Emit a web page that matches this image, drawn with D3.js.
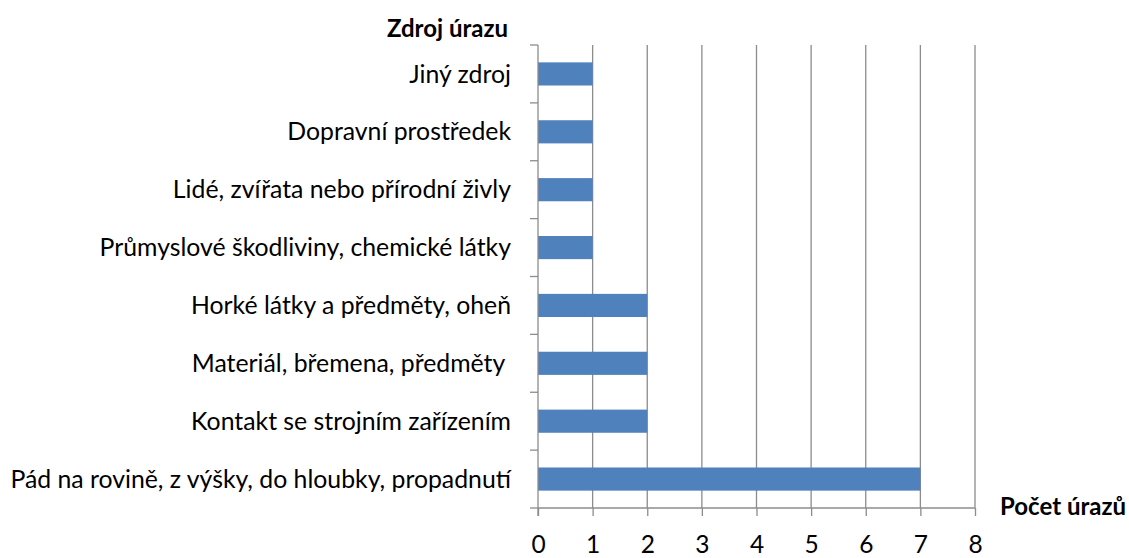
<!DOCTYPE html>
<html>
<head>
<meta charset="utf-8">
<script src="https://cdn.jsdelivr.net/npm/d3@7"></script>
<style>
  body { margin: 0; background: #fff; }
  text { font-family: Lato, "Open Sans", sans-serif; fill: #000; }
</style>
</head>
<body>
<div id="svganchor"></div>
<script>
// chart data, bottom to top as in the picture
let categories = [
  "Pád na rovině, z výšky, do hloubky, propadnutí",
  "Kontakt se strojním zařízením",
  "Materiál, břemena, předměty ",
  "Horké látky a předměty, oheň",
  "Průmyslové škodliviny, chemické látky",
  "Lidé, zvířata nebo přírodní živly",
  "Dopravní prostředek",
  "Jiný zdroj"
];
let counts = [7, 2, 2, 2, 1, 1, 1, 1];
let xTicks = [0, 1, 2, 3, 4, 5, 6, 7, 8];
let yTitle = "Zdroj úrazu";
let xTitle = "Počet úrazů";

let width = 1129;
let height = 558;
let margin = { top: 45, right: 154, bottom: 50, left: 538 };

let svg = d3.select("#svganchor").append("svg").attr("width", width).attr("height", height);

let xScale = d3.scaleLinear().domain([0, 8]).range([margin.left, width - margin.right]);
let yScale = d3.scaleBand()
  .domain(categories.slice().reverse())
  .range([margin.top, height - margin.bottom])
  .paddingInner(0.6)
  .paddingOuter(0.3);

let gridColor = "#8c8c8c";

// vertical gridlines
svg.append("g").selectAll("line").data(xTicks.slice(1)).enter().append("line")
  .attr("x1", d => xScale(d)).attr("x2", d => xScale(d))
  .attr("y1", margin.top).attr("y2", height - margin.bottom)
  .attr("stroke", gridColor).attr("stroke-width", 1.3);

// bars
svg.append("g").selectAll("rect").data(categories).enter().append("rect")
  .attr("x", xScale(0))
  .attr("y", d => yScale(d))
  .attr("width", (d, i) => xScale(counts[i]) - xScale(0))
  .attr("height", yScale.bandwidth())
  .attr("fill", "#4f81bd");

// x axis
let xAxis = svg.append("g")
  .attr("transform", "translate(0," + (height - margin.bottom) + ")")
  .call(d3.axisBottom(xScale).tickValues(xTicks).tickSize(8).tickSizeOuter(0));
xAxis.select(".domain").remove();
xAxis.append("line").attr("x1", xScale(0)).attr("x2", xScale(8));
xAxis.selectAll("line").attr("stroke", gridColor).attr("stroke-width", 1.3);
xAxis.selectAll("text").attr("dy", null).attr("y", 45)
  .style("font-size", "24.5px").style("font-family", "Lato, sans-serif").attr("fill", "#000");

// y axis, ticks sit on category boundaries
let step = yScale.step();
let boundaries = d3.range(categories.length + 1).map(i => margin.top + i * step);
let yAxis = svg.append("g");
yAxis.append("line")
  .attr("x1", xScale(0)).attr("x2", xScale(0))
  .attr("y1", margin.top).attr("y2", height - margin.bottom + 8)
  .attr("stroke", gridColor).attr("stroke-width", 1.3);
yAxis.selectAll(".tick").data(boundaries).enter().append("line")
  .attr("x1", xScale(0) - 8).attr("x2", xScale(0))
  .attr("y1", d => d).attr("y2", d => d)
  .attr("stroke", gridColor).attr("stroke-width", 1.3);
yAxis.selectAll(".lbl").data(categories).enter().append("text")
  .attr("x", xScale(0) - 27)
  .attr("y", d => yScale(d) + yScale.bandwidth() / 2)
  .attr("dy", "0.35em")
  .attr("text-anchor", "end")
  .style("font-size", "24.8px")
  .style("white-space", "pre")
  .text(d => d);

// axis titles
svg.append("text").attr("x", 508).attr("y", 37).attr("text-anchor", "end")
  .style("font-size", "24px").style("font-weight", "bold").text(yTitle);
svg.append("text").attr("x", 1000).attr("y", 515)
  .style("font-size", "24px").style("font-weight", "bold").text(xTitle);
</script>
</body>
</html>
